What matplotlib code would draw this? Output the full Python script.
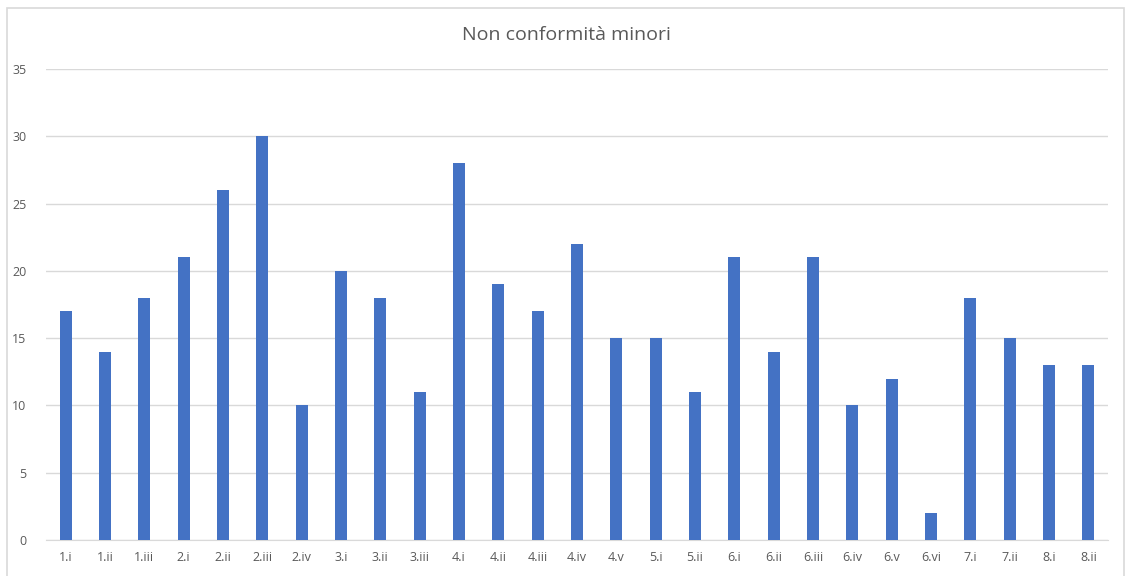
import numpy as np
import matplotlib
matplotlib.use('Agg')
import matplotlib.pyplot as plt
from matplotlib.patches import Rectangle

labels = ['1.i', '1.ii', '1.iii', '2.i', '2.ii', '2.iii', '2.iv', '3.i', '3.ii', '3.iii',
          '4.i', '4.ii', '4.iii', '4.iv', '4.v', '5.i', '5.ii', '6.i', '6.ii', '6.iii',
          '6.iv', '6.v', '6.vi', '7.i', '7.ii', '8.i', '8.ii']
values = [17, 14, 18, 21, 26, 30, 10, 20, 18, 11,
          28, 19, 17, 22, 15, 15, 11, 21, 14, 21,
          10, 12, 2, 18, 15, 13, 13]
y_ticks = [0, 5, 10, 15, 20, 25, 30, 35]

plt.rcParams['font.family'] = ['Open Sans', 'DejaVu Sans']

W, H = 1129, 576
fig = plt.figure(figsize=(W / 100, H / 100), dpi=100)
fig.patch.set_facecolor('white')

# chart border (bottom edge cut off in reference)
fig.patches.append(Rectangle((7 / W, -0.05), (1124 - 7) / W, 1.05 - 8 / H,
                             transform=fig.transFigure, fill=False,
                             edgecolor='#d9d9d9', linewidth=1.2))

ax = fig.add_axes([46 / W, 36 / H, (1108 - 46) / W, (540 - 69) / H])
x = np.arange(len(labels))
ax.bar(x, values, width=0.31, color='#4472c4', zorder=3)

ax.set_xlim(-0.5, len(labels) - 0.5)
ax.set_ylim(0, 35)
ax.set_yticks(y_ticks)
ax.set_xticks(x)
ax.set_xticklabels(labels)
ax.tick_params(axis='both', length=0, labelsize=9, colors='#595959')
ax.tick_params(axis='x', pad=8)
ax.tick_params(axis='y', pad=14)
ax.grid(axis='y', color='#d9d9d9', linewidth=1, zorder=0)
for s in ['top', 'right', 'left']:
    ax.spines[s].set_visible(False)
ax.spines['bottom'].set_color('#d9d9d9')

fig.text(566 / W, 1 - 35 / H, 'Non conformità minori', ha='center', va='center',
         fontsize=14, color='#595959')

fig.savefig('out.png', dpi=100)
